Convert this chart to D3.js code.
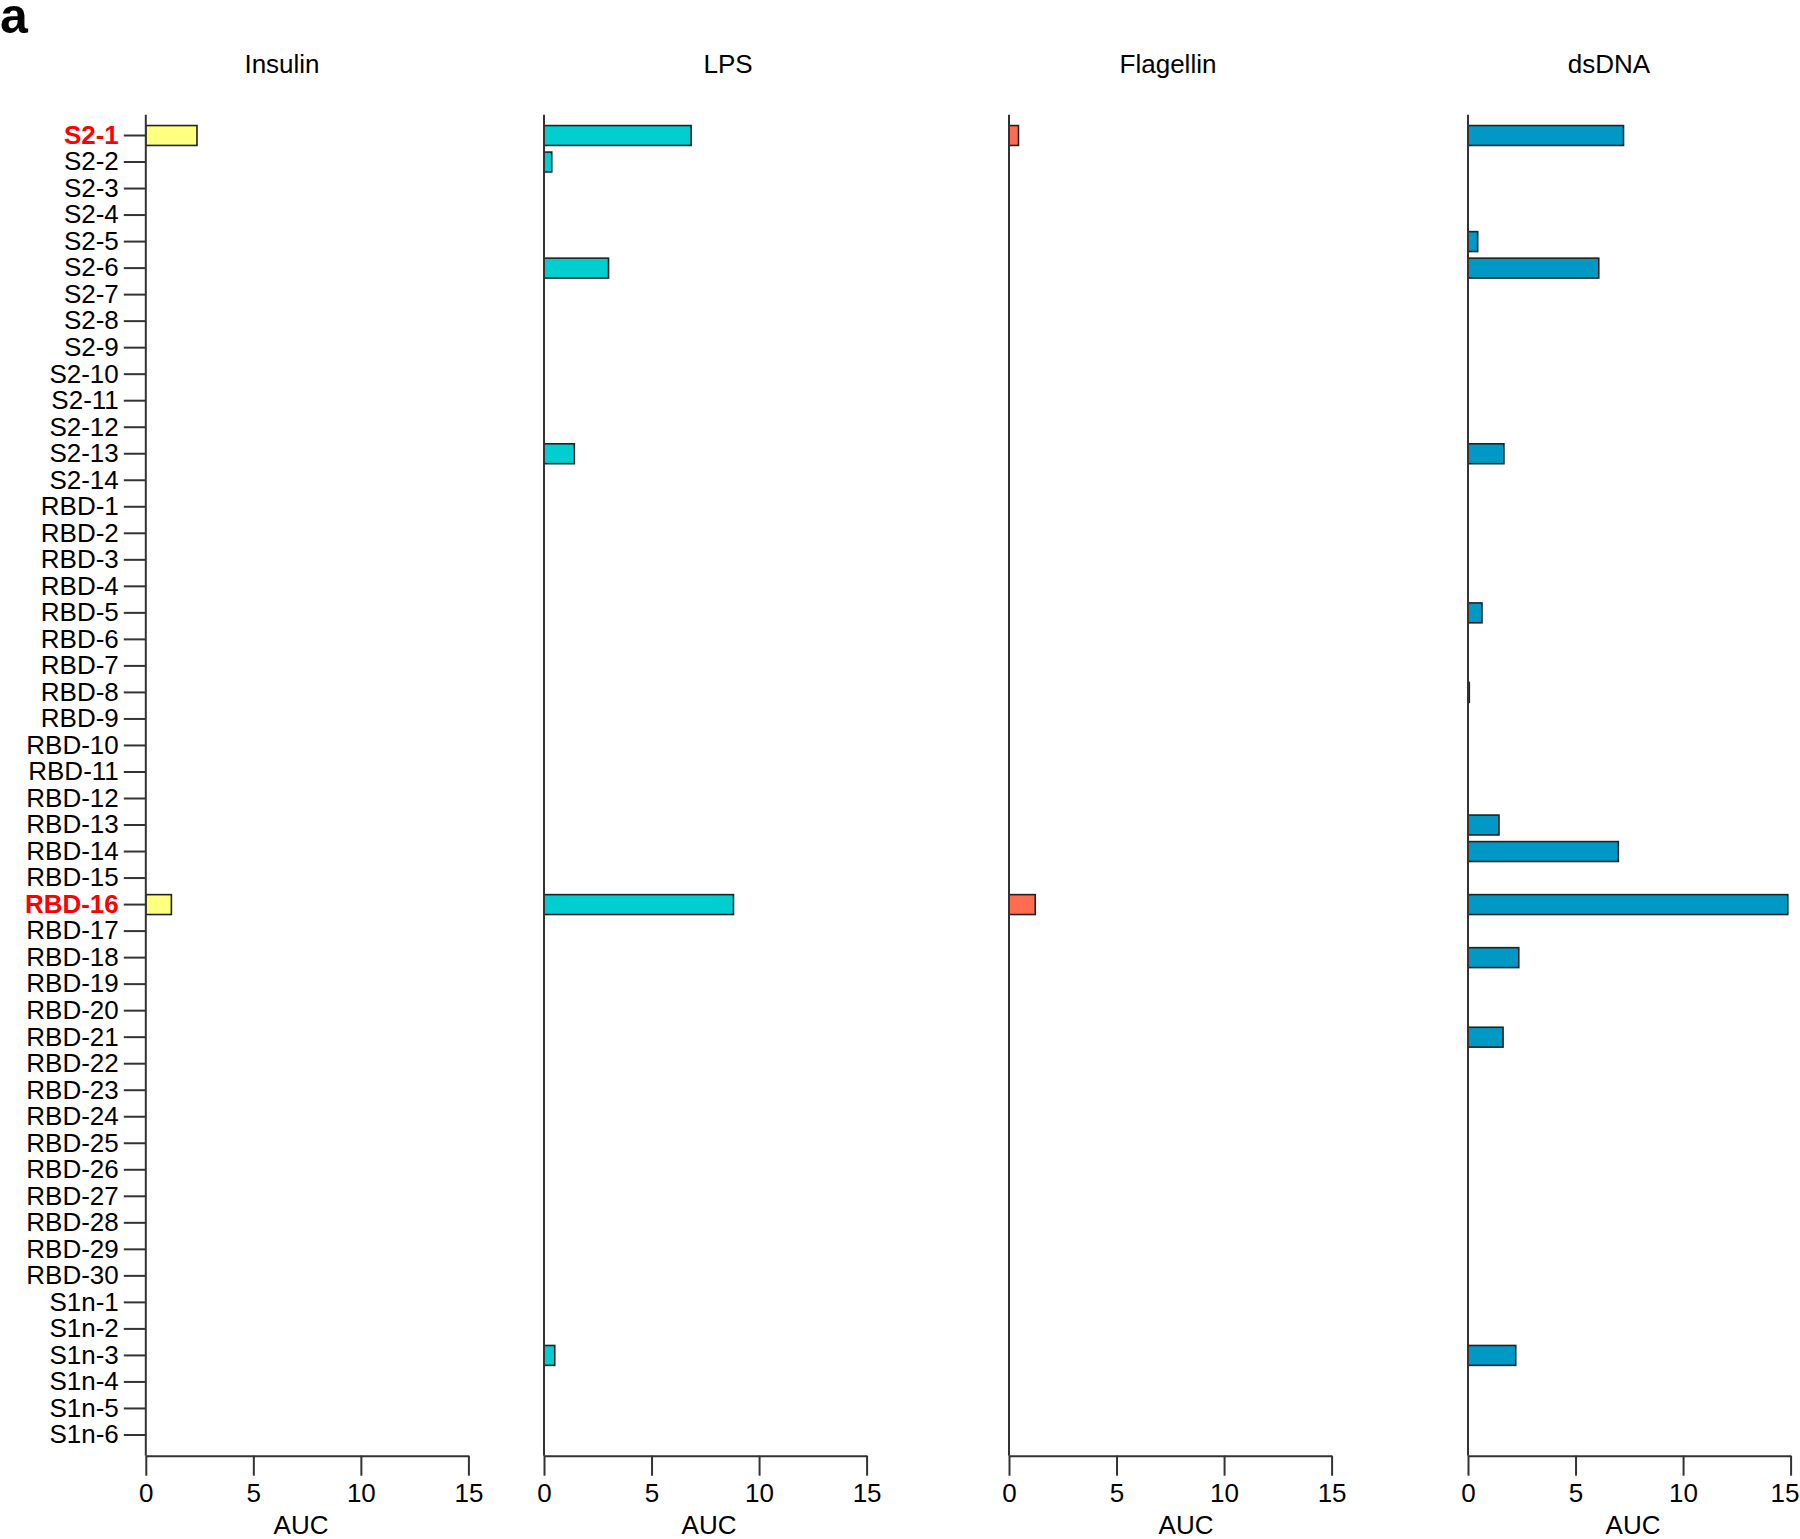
<!DOCTYPE html>
<html>
<head>
<meta charset="utf-8">
<script src="https://cdn.jsdelivr.net/npm/d3@7/dist/d3.min.js"></script>
<style>
  html, body { margin: 0; padding: 0; background: #fff; }
  svg { display: block; }
  text { font-family: "Liberation Sans", Arial, Helvetica, sans-serif; }
</style>
</head>
<body>
<svg id="chart" width="1800" height="1539"></svg>
<script>
// ---- Data ----
const categories = [
  "S2-1","S2-2","S2-3","S2-4","S2-5","S2-6","S2-7","S2-8","S2-9","S2-10","S2-11","S2-12","S2-13","S2-14",
  "RBD-1","RBD-2","RBD-3","RBD-4","RBD-5","RBD-6","RBD-7","RBD-8","RBD-9","RBD-10",
  "RBD-11","RBD-12","RBD-13","RBD-14","RBD-15","RBD-16","RBD-17","RBD-18","RBD-19","RBD-20",
  "RBD-21","RBD-22","RBD-23","RBD-24","RBD-25","RBD-26","RBD-27","RBD-28","RBD-29","RBD-30",
  "S1n-1","S1n-2","S1n-3","S1n-4","S1n-5","S1n-6"
];
const highlighted = ["S2-1", "RBD-16"];
const panelTitles = ["Insulin", "LPS", "Flagellin", "dsDNA"];
const xTicks = [0, 5, 10, 15];
const xLabel = "AUC";

// non-zero AUC values (all others 0)
const insulinValues = { "S2-1": 2.38, "RBD-16": 1.19 };
const lpsValues = { "S2-1": 6.84, "S2-2": 0.36, "S2-6": 3.0, "S2-13": 1.41, "RBD-16": 8.81, "S1n-3": 0.5 };
const flagellinValues = { "S2-1": 0.44, "RBD-16": 1.22 };
const dsdnaValues = { "S2-1": 7.23, "S2-5": 0.45, "S2-6": 6.08, "S2-13": 1.67, "RBD-5": 0.65, "RBD-8": 0.06,
  "RBD-13": 1.44, "RBD-14": 6.99, "RBD-16": 14.87, "RBD-18": 2.36, "RBD-21": 1.63, "S1n-3": 2.22 };
const seriesValues = [insulinValues, lpsValues, flagellinValues, dsdnaValues];

// ---- Layout / style ----
const colors = ["#FFFF80", "#00CED1", "#FF6C50", "#0099C6"];
const panelX = [145.8, 544, 1009, 1468];
const panelW = 322.6;
const titleX = [282, 728, 1168, 1609];
const auxX = [301, 709, 1186, 1633];
const axisTop = 114.8, axisBottom = 1455.7;
const fontSize = 26;
const W = 1800;

const svg = d3.select("#chart");

svg.append("text")
  .attr("x", 0).attr("y", 33)
  .attr("font-size", 50).attr("font-weight", "bold")
  .attr("fill", "#000")
  .text("a");

const y = d3.scaleBand()
  .domain(categories)
  .range([122.24, 1448.24])
  .paddingInner(0.25)
  .paddingOuter(0.125);

panelTitles.forEach((title, i) => {
  const x = d3.scaleLinear().domain([0, 15]).range([panelX[i], panelX[i] + panelW]);
  const g = svg.append("g");

  // title
  g.append("text")
    .attr("x", titleX[i]).attr("y", 73)
    .attr("text-anchor", "middle")
    .attr("font-size", fontSize).attr("fill", "#000")
    .text(title);

  // bars
  const rows = categories.map(c => ({ c, v: seriesValues[i][c] || 0 })).filter(d => d.v > 0);
  g.selectAll("rect.bar").data(rows).join("rect")
    .attr("class", "bar")
    .attr("x", x(0))
    .attr("y", d => y(d.c))
    .attr("width", d => x(d.v) - x(0))
    .attr("height", y.bandwidth())
    .attr("fill", colors[i])
    .attr("stroke", "#222")
    .attr("stroke-width", 1.6);

  // y axis line
  g.append("line")
    .attr("x1", x(0)).attr("x2", x(0))
    .attr("y1", axisTop).attr("y2", axisBottom)
    .attr("stroke", "#333").attr("stroke-width", 2);

  // category ticks only on the first panel
  if (i === 0) {
    const yAxis = d3.axisLeft(y).tickSize(22).tickPadding(5);
    const ga = g.append("g").attr("transform", `translate(${x(0)},0)`).call(yAxis);
    ga.select(".domain").remove();
    ga.selectAll(".tick line").attr("stroke", "#333").attr("stroke-width", 2);
    ga.selectAll(".tick text")
      .attr("font-size", fontSize)
      .attr("font-family", "'Liberation Sans', Arial, sans-serif")
      .attr("fill", d => highlighted.includes(d) ? "#FF0000" : "#000")
      .attr("font-weight", d => highlighted.includes(d) ? "bold" : "normal");
  }

  // x axis
  const xAxis = d3.axisBottom(x).tickValues(xTicks).tickSize(20).tickPadding(8).tickSizeOuter(0);
  const gx = g.append("g").attr("transform", `translate(0,${axisBottom})`).call(xAxis);
  gx.select(".domain").attr("stroke", "#333").attr("stroke-width", 2);
  gx.selectAll(".tick line").attr("stroke", "#333").attr("stroke-width", 2);
  gx.selectAll(".tick text")
    .attr("font-size", fontSize)
    .attr("font-family", "'Liberation Sans', Arial, sans-serif")
    .attr("fill", "#000");
  // keep the last label inside the page edge
  gx.selectAll(".tick text").each(function(d) {
    const bb = this.getBBox();
    const tx = x(d);
    const right = tx + bb.x + bb.width;
    if (right > W - 1) d3.select(this).attr("dx", (W - 1 - right) + "px");
  });

  g.append("text")
    .attr("x", auxX[i]).attr("y", 1534)
    .attr("text-anchor", "middle")
    .attr("font-size", fontSize).attr("fill", "#000")
    .text(xLabel);
});
</script>
</body>
</html>
